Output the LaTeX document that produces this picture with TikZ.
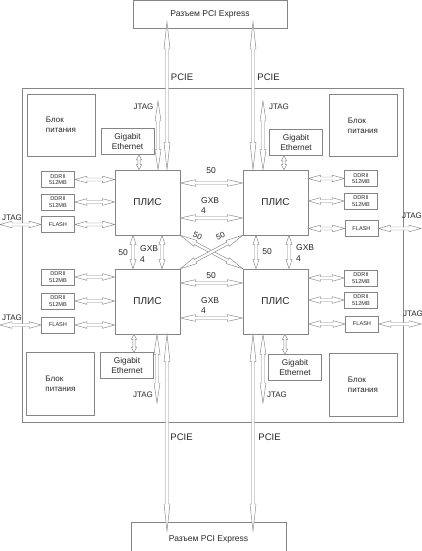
\documentclass[tikz,border=0pt]{standalone}
\usepackage{fontspec}
\setmainfont{Liberation Sans}
\usetikzlibrary{calc}
\definecolor{lc}{HTML}{858585}
\definecolor{tc}{HTML}{262626}
\tikzset{
  box/.style={draw=lc, line width=0.6pt, inner sep=0pt, text=tc, align=center},
  fpga/.style={box, minimum width=65pt, minimum height=65pt, font=\fontsize{10}{12}\selectfont},
  pwr/.style={box, minimum width=68pt, minimum height=62pt, align=left, font=\fontsize{8}{10}\selectfont},
  gbe/.style={box, minimum width=53pt, minimum height=26pt, font=\fontsize{8.3}{9.5}\selectfont},
  mem/.style={box, minimum width=33pt, minimum height=16pt, font=\fontsize{5.6}{6.5}\selectfont},
  lbl/.style={text=tc, inner sep=0pt, font=\fontsize{8}{9.5}\selectfont},
  lblw/.style={lbl, anchor=west, align=left},
  arrline/.style={draw=lc, fill=white, line width=0.45pt, line join=miter}
}
% hollow double-headed arrow: #1 from, #2 to, #3 head length, #4 head half-width, #5 shaft half-width
\newcommand\hollowarr[5]{%
  \draw[arrline] (#1)
    -- ($(#1)!#3!(#2)!#4!90:(#2)$)
    -- ($(#1)!#3!(#2)!#5!90:(#2)$)
    -- ($(#2)!#3!(#1)!#5!-90:(#1)$)
    -- ($(#2)!#3!(#1)!#4!-90:(#1)$)
    -- (#2)
    -- ($(#2)!#3!(#1)!#4!90:(#1)$)
    -- ($(#2)!#3!(#1)!#5!90:(#1)$)
    -- ($(#1)!#3!(#2)!#5!-90:(#2)$)
    -- ($(#1)!#3!(#2)!#4!-90:(#2)$)
    -- cycle;}
\begin{document}
\begin{tikzpicture}[x=1pt,y=-1pt]
\useasboundingbox (0,0) rectangle (422,551);

% board
\node[box, minimum width=381pt, minimum height=334pt] (board) at (212.5,255) {};

% PCI connectors
\node[box, minimum width=154pt, minimum height=28pt, font=\fontsize{8.5}{10}\selectfont] (pciT) at (210,14) {Разъем PCI Express};
\node[box, minimum width=155pt, minimum height=29pt,
  label={[lbl, font=\fontsize{8.5}{10}\selectfont, yshift=-2.5pt]center:Разъем PCI Express}] (pciB) at (208.5,536.5) {};

% FPGAs
\node[fpga] (fTL) at (147.5,202.5) {ПЛИС};
\node[fpga] (fTR) at (275.5,202.5) {ПЛИС};
\node[fpga] (fBL) at (147.5,301.5) {ПЛИС};
\node[fpga] (fBR) at (275.5,301.5) {ПЛИС};

% power blocks
\node[pwr] (pTL) at (61,125) {Блок\\питания};
\node[pwr] (pTR) at (363,125.5) {Блок\\питания};
\node[pwr, minimum height=63pt] (pBL) at (60.5,383.5) {Блок\\питания};
\node[pwr, minimum height=63pt] (pBR) at (363,384.5) {Блок\\питания};

% Gigabit Ethernet
\node[gbe] (gTL) at (127.5,141.5) {Gigabit\\Ethernet};
\node[gbe] (gTR) at (296,142.5) {Gigabit\\Ethernet};
\node[gbe] (gBL) at (127,365.5) {Gigabit\\Ethernet};
\node[gbe] (gBR) at (295,367.5) {Gigabit\\Ethernet};

% memories left
\node[mem] (dTL1) at (58,179.5) {DDRII\\512MB};
\node[mem] (dTL2) at (58,202) {DDRII\\512MB};
\node[mem] (flTL) at (58,224.5) {FLASH};
\node[mem] (dBL1) at (58,277) {DDRII\\512MB};
\node[mem] (dBL2) at (58,301) {DDRII\\512MB};
\node[mem] (flBL) at (58,325) {FLASH};
% memories right
\node[mem] (dTR1) at (361,178.5) {DDRII\\512MB};
\node[mem] (dTR2) at (361,201) {DDRII\\512MB};
\node[mem] (flTR) at (361.5,228.5) {FLASH};
\node[mem] (dBR1) at (361,278) {DDRII\\512MB};
\node[mem] (dBR2) at (361,300) {DDRII\\512MB};
\node[mem] (flBR) at (362,324) {FLASH};

% free-end coordinates
\coordinate (jL1) at (0,224.5);
\coordinate (jL2) at (0,325);
\coordinate (jR1) at (421,228.5);
\coordinate (jR2) at (421,324);
\coordinate (pcTL) at (167,22);
\coordinate (pcTR) at (253,22);
\coordinate (pcBL) at (167,531);
\coordinate (pcBR) at (253,531);
\coordinate (jtTL) at (158,101);
\coordinate (jtTR) at (263,101);
\coordinate (jtBL) at (157,403);
\coordinate (jtBR) at (263,403);

% memory links
\foreach \m in {dTL1,dTL2,flTL,dBL1,dBL2,flBL}{
  \hollowarr{\m.east}{\m.east -| fTL.west}{12pt}{3.3pt}{1.5pt}
}
\foreach \m in {dTR1,dTR2,flTR,dBR1,dBR2,flBR}{
  \hollowarr{\m.west}{\m.west -| fTR.east}{12pt}{3.3pt}{1.5pt}
}

% external JTAG
\hollowarr{jL1}{flTL.west}{12pt}{3.3pt}{1.5pt}
\hollowarr{jL2}{flBL.west}{12pt}{3.3pt}{1.5pt}
\hollowarr{flTR.east}{jR1}{12pt}{3.3pt}{1.5pt}
\hollowarr{flBR.east}{jR2}{12pt}{3.3pt}{1.5pt}

% FPGA-FPGA horizontal
\hollowarr{[yshift=19.5pt]fTL.east}{[yshift=19.5pt]fTR.west}{15pt}{3.3pt}{1.5pt}
\hollowarr{[yshift=-15.5pt]fTL.east}{[yshift=-15.5pt]fTR.west}{15pt}{3.3pt}{1.5pt}
\hollowarr{[yshift=18.5pt]fBL.east}{[yshift=18.5pt]fBR.west}{15pt}{3.3pt}{1.5pt}
\hollowarr{[yshift=-16.5pt]fBL.east}{[yshift=-16.5pt]fBR.west}{15pt}{3.3pt}{1.5pt}

% FPGA-FPGA vertical
\hollowarr{[xshift=-14.5pt]fTL.south}{[xshift=-14.5pt]fBL.north}{9pt}{3pt}{1.5pt}
\hollowarr{[xshift=14.5pt]fTL.south}{[xshift=14.5pt]fBL.north}{9pt}{3pt}{1.5pt}
\hollowarr{[xshift=-19.5pt]fTR.south}{[xshift=-19.5pt]fBR.north}{9pt}{3pt}{1.5pt}
\hollowarr{[xshift=13.5pt]fTR.south}{[xshift=13.5pt]fBR.north}{9pt}{3pt}{1.5pt}

% diagonals
\hollowarr{fTL.south east}{fBR.north west}{17pt}{3.3pt}{1.5pt}
\hollowarr{fTR.south west}{fBL.north east}{17pt}{3.3pt}{1.5pt}

% PCIE
\hollowarr{pcTL}{pcTL |- fTL.north}{27pt}{3pt}{1.5pt}
\hollowarr{pcTR}{pcTR |- fTR.north}{27pt}{3pt}{1.5pt}
\hollowarr{pcBL |- fBL.south}{pcBL}{27pt}{3pt}{1.5pt}
\hollowarr{pcBR |- fBR.south}{pcBR}{27pt}{3pt}{1.5pt}

% JTAG vertical
\hollowarr{jtTL}{jtTL |- fTL.north}{20pt}{3pt}{1.5pt}
\hollowarr{jtTR}{jtTR |- fTR.north}{20pt}{3pt}{1.5pt}
\hollowarr{jtBL |- fBL.south}{jtBL}{20pt}{3pt}{1.5pt}
\hollowarr{jtBR |- fBR.south}{jtBR}{20pt}{3pt}{1.5pt}

% Gigabit Ethernet links
\coordinate (eTL) at (139,0);
\coordinate (eTR) at (284,0);
\coordinate (eBL) at (134,0);
\coordinate (eBR) at (285,0);
\hollowarr{gTL.south -| eTL}{fTL.north -| eTL}{5pt}{2.6pt}{1.2pt}
\hollowarr{gTR.south -| eTR}{fTR.north -| eTR}{5pt}{2.6pt}{1.2pt}
\hollowarr{fBL.south -| eBL}{gBL.north -| eBL}{5pt}{2.6pt}{1.2pt}
\hollowarr{fBR.south -| eBR}{gBR.north -| eBR}{5pt}{2.6pt}{1.2pt}

% labels
\node[lbl, font=\fontsize{9.5}{11}\selectfont] (lpTL) at (182,77) {PCIE};
\node[lbl, font=\fontsize{9.5}{11}\selectfont] (lpTR) at (268.5,77) {PCIE};
\node[lbl, font=\fontsize{9.5}{11}\selectfont] (lpBL) at (181.5,437) {PCIE};
\node[lbl, font=\fontsize{9.5}{11}\selectfont] (lpBR) at (269.5,437) {PCIE};
\node[lbl] (ljTL) at (143.5,107) {JTAG};
\node[lbl] (ljTR) at (279,107) {JTAG};
\node[lbl] (ljBL) at (143,395) {JTAG};
\node[lbl] (ljBR) at (277,395) {JTAG};
\node[lbl] (ljL1) at (12,218) {JTAG};
\node[lbl] (ljL2) at (12,318) {JTAG};
\node[lbl] (ljR1) at (412,216) {JTAG};
\node[lbl] (ljR2) at (413,314) {JTAG};

\node[lbl, font=\fontsize{8.5}{10}\selectfont] (l50a) at (211,171) {50};
\node[lblw, font=\fontsize{8.5}{10.5}\selectfont] (lgxa) at (201,205.5) {GXB\\4};
\node[lbl, font=\fontsize{8.5}{10}\selectfont] (l50b) at (211,276) {50};
\node[lblw, font=\fontsize{8.5}{10.5}\selectfont] (lgxb) at (201,305.5) {GXB\\4};
\node[lbl, font=\fontsize{8.5}{10}\selectfont] (l50c) at (123,253) {50};
\node[lblw, font=\fontsize{8.5}{10.5}\selectfont] (lgxc) at (140,254) {GXB\\4};
\node[lbl, font=\fontsize{8.5}{10}\selectfont] (l50d) at (267,252) {50};
\node[lblw, font=\fontsize{8.5}{10.5}\selectfont] (lgxd) at (296,253) {GXB\\4};
\node[lbl, font=\fontsize{8}{10}\selectfont, rotate=-25] (l50e) at (197.5,236) {50};
\node[lbl, font=\fontsize{8}{10}\selectfont, rotate=25] (l50f) at (220.5,236) {50};
\end{tikzpicture}
\end{document}
